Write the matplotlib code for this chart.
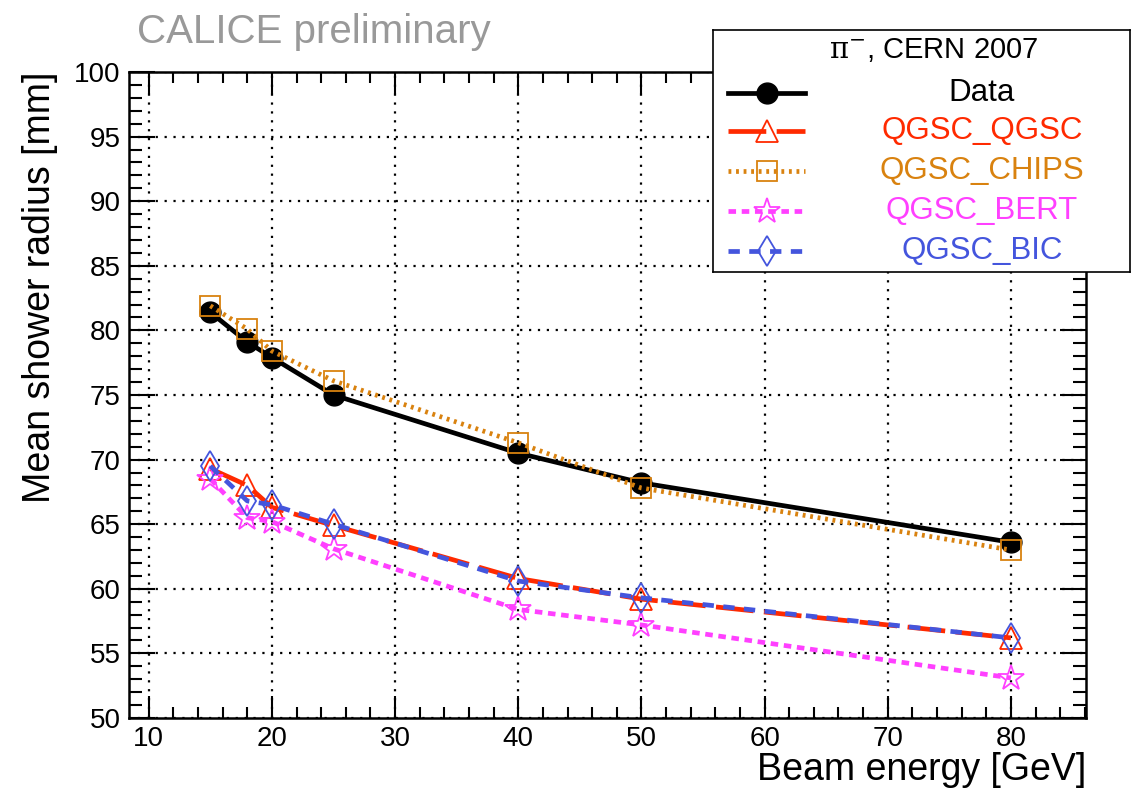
import matplotlib
matplotlib.use('Agg')
import matplotlib.pyplot as plt
from matplotlib.ticker import MultipleLocator

plt.rcParams['font.family'] = ['Liberation Sans', 'DejaVu Sans']
plt.rcParams['mathtext.fontset'] = 'dejavuserif'

# Beam energies [GeV]
energy = [15, 18, 20, 25, 40, 50, 80]

# Mean shower radius [mm]
data = [81.4, 79.1, 77.9, 75.0, 70.5, 68.2, 63.6]
qgsc_qgsc = [69.3, 68.0, 66.3, 64.9, 60.8, 59.2, 56.2]
qgsc_chips = [81.9, 80.1, 78.4, 76.1, 71.3, 67.8, 63.0]
qgsc_bert = [68.5, 65.5, 65.2, 63.1, 58.4, 57.2, 53.1]
qgsc_bic = [69.5, 66.8, 66.5, 65.0, 60.6, 59.3, 56.2]

labels = ['Data', 'QGSC_QGSC', 'QGSC_CHIPS', 'QGSC_BERT', 'QGSC_BIC']
series = [data, qgsc_qgsc, qgsc_chips, qgsc_bert, qgsc_bic]
colors = ['black', '#ff2a00', '#d9820f', '#ff40ff', '#4455dd']
markers = ['o', '^', 's', '*', 'd']
dashes = [(None, None), (8, 2.2), (0.6, 1.0), (1.6, 1.2), (2.4, 2.0)]
msizes = [15, 16, 15, 19, 15]

fig = plt.figure(figsize=(11.32, 7.91), dpi=100)
ax = fig.add_axes([0.114, 0.0923, 0.8454, 0.8167])

styles = []
for i, (y, lab, c, m, d, ms) in enumerate(zip(series, labels, colors, markers, dashes, msizes)):
    kw = dict(color=c, lw=3.4, marker=m, markersize=ms, zorder=3 + i)
    if i == 0:
        kw.update(markerfacecolor=c, markeredgecolor=c)
    else:
        kw.update(markerfacecolor='none', markeredgecolor=c, markeredgewidth=1.3)
        kw['dashes'] = d
    ax.plot(energy, y, **kw)
    styles.append(kw)

ax.set_xlim(8.4, 86.1)
ax.set_ylim(50, 100)
ax.xaxis.set_major_locator(MultipleLocator(10))
ax.xaxis.set_minor_locator(MultipleLocator(2))
ax.yaxis.set_major_locator(MultipleLocator(5))
ax.yaxis.set_minor_locator(MultipleLocator(1))
ax.grid(True, which='major', color='black', linestyle=(0, (1, 3)), lw=1.6)
ax.tick_params(which='both', direction='in', top=True, right=True,
               width=1.5, labelsize=20, pad=6)
ax.tick_params(axis='x', which='major', length=16)
ax.tick_params(axis='x', which='minor', length=8)
ax.tick_params(axis='y', which='major', length=19)
ax.tick_params(axis='y', which='minor', length=9.5)
for s in ax.spines.values():
    s.set_linewidth(1.8)

ax.set_xlabel('Beam energy [GeV]', fontsize=27, loc='right', labelpad=0)
ax.set_ylabel('Mean shower radius [mm]', fontsize=27, loc='top', labelpad=12)

fig.text(0.121, 0.96, 'CALICE preliminary', fontsize=29, color='#999999',
         ha='left', va='center')

# Legend box (ROOT style)
lax = fig.add_axes([0.63, 0.656, 0.368, 0.306])
lax.set_xlim(0, 1)
lax.set_ylim(0, 1)
lax.set_xticks([])
lax.set_yticks([])
for s in lax.spines.values():
    s.set_linewidth(1.2)
lax.text(0.53, 0.917, r'$\mathrm{\pi}^{-}$' + ', CERN 2007', fontsize=21, ha='center', va='center')
rows = [0.74, 0.583, 0.417, 0.252, 0.087]
for yr, lab, kw in zip(rows, labels, styles):
    lkw = {k: v for k, v in kw.items() if k not in ('marker', 'zorder')}
    lkw.pop('markersize', None)
    lax.plot([0.036, 0.22], [yr, yr], **lkw)
    mkw = dict(kw)
    mkw.pop('dashes', None)
    mkw['lw'] = 0
    lax.plot([0.13], [yr], **mkw)
    lax.text(0.645, yr, lab, fontsize=22.5, color=kw['color'], ha='center', va='center')

fig.savefig('out.png', dpi=100)
